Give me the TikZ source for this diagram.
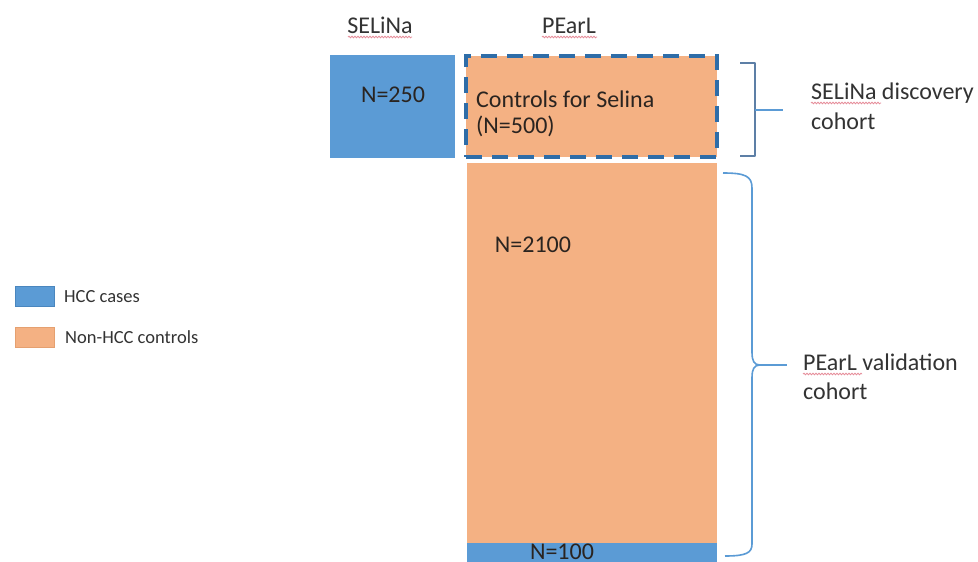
\documentclass[tikz,border=0pt]{standalone}
\usepackage{fontspec}
\setmainfont{Carlito}
\usetikzlibrary{decorations.pathmorphing}
\definecolor{hccblue}{HTML}{5B9BD5}
\definecolor{hccedge}{HTML}{4A86BE}
\definecolor{ctrlorange}{HTML}{F4B183}
\definecolor{ctrledge}{HTML}{E5A070}
\definecolor{dashblue}{HTML}{2E6DA8}
\definecolor{bracedark}{HTML}{5D7FA6}
\definecolor{bracelight}{HTML}{5B9BD5}
\definecolor{boxtext}{HTML}{2A2420}
\definecolor{labeltext}{HTML}{333333}
\definecolor{spellred}{HTML}{E07080}

\begin{document}
\begin{tikzpicture}[x=1pt,y=-1pt,
  block/.style={draw=none, inner sep=0pt, outer sep=0pt, anchor=north west},
  boxlbl/.style={font=\fontsize{24}{28}\selectfont, text=boxtext, inner sep=0pt},
  headlbl/.style={font=\fontsize{24}{28}\selectfont, text=labeltext, inner sep=0pt},
  keylbl/.style={font=\fontsize{18.5}{22}\selectfont, text=labeltext, inner sep=0pt, anchor=base west},
  swatch/.style={inner sep=0pt, outer sep=0pt, anchor=north west, minimum width=39pt, minimum height=20pt, line width=0.8pt},
  bracket/.style={line width=1.8pt, line join=round},
  spell/.style={draw=spellred, line width=0.8pt, opacity=0.8,
    decorate, decoration={snake, amplitude=0.8pt, segment length=3pt}}
]
\useasboundingbox (0,0) rectangle (978,562);
\fill[white] (0,0) rectangle (978,562);

% column headers
\node[headlbl, anchor=base] (hsel) at (380,33) {SELiNa};
\node[headlbl, anchor=base] (hpearl) at (569,33) {PEarL};
\draw[spell] (348,37) -- (412,37);
\draw[spell] (542,37) -- (597,37);

% SELiNa cases
\node[block, fill=hccblue, minimum width=125pt, minimum height=103pt] (selbox) at (330,55) {};
\node[boxlbl, anchor=base] (selN) at (393,102) {N=250};

% PEarL controls used for SELiNa (dashed outline)
\node[block, fill=ctrlorange, draw=dashblue, line width=4pt,
      dash pattern=on 16pt off 10pt, minimum width=251pt, minimum height=101pt] (ctrlbox) at (466,56) {};
\node[boxlbl, anchor=base west] (ctrlA) at (476,107) {Controls for Selina};
\node[boxlbl, anchor=base west] (ctrlB) at (476,133) {(N=500)};

% PEarL validation controls
\node[block, fill=ctrlorange, minimum width=250pt, minimum height=380pt] (valbox) at (467,163) {};
\node[boxlbl, anchor=base] (valN) at (533,252) {N=2100};

% PEarL validation cases
\node[block, fill=hccblue, minimum width=250pt, minimum height=40pt] (casebox) at (467,543) {};
\node[boxlbl, anchor=base] (caseN) at (562,559) {N=100};

% legend
\node[swatch, fill=hccblue, draw=hccedge] (keyA) at (15,286) {};
\node[keylbl] (keyAt) at (64,302) {HCC cases};
\node[swatch, fill=ctrlorange, draw=ctrledge] (keyB) at (15,327) {};
\node[keylbl] (keyBt) at (65,343) {Non-HCC controls};

% discovery cohort bracket
\coordinate (dtop) at (740,63);
\coordinate (dbot) at (740,156);
\coordinate (dmid) at (755,110);
\coordinate (dtip) at (783,110);
\draw[bracket, draw=bracedark] (dtop) -- (755,63) -- (755,156) -- (dbot);
\draw[bracket, draw=bracelight] (dmid) -- (dtip);
\node[headlbl, anchor=base west] (discA) at (811,99) {SELiNa discovery};
\node[headlbl, anchor=base west] (discB) at (811,129) {cohort};
\draw[spell] (811,103) -- (881,103);

% validation cohort brace
\coordinate (vtop) at (723,173);
\coordinate (vbot) at (725,556);
\coordinate (vcusp) at (760,365);
\coordinate (vtip) at (787,365);
\draw[bracket, draw=bracelight, line width=1.6pt]
  (vtop) .. controls (745,173) and (752,176) .. (752,188)
  -- (752,352) .. controls (752,361) and (754,365) .. (vcusp)
  .. controls (754,365) and (752,369) .. (752,378)
  -- (752,544) .. controls (752,553) and (746,556) .. (vbot);
\draw[bracket, draw=bracelight, line width=1.6pt] (vcusp) -- (vtip);
\node[headlbl, anchor=base west] (valA) at (803,370) {PEarL validation};
\node[headlbl, anchor=base west] (valB) at (803,399) {cohort};
\draw[spell] (803,374) -- (862,374);
\end{tikzpicture}
\end{document}
